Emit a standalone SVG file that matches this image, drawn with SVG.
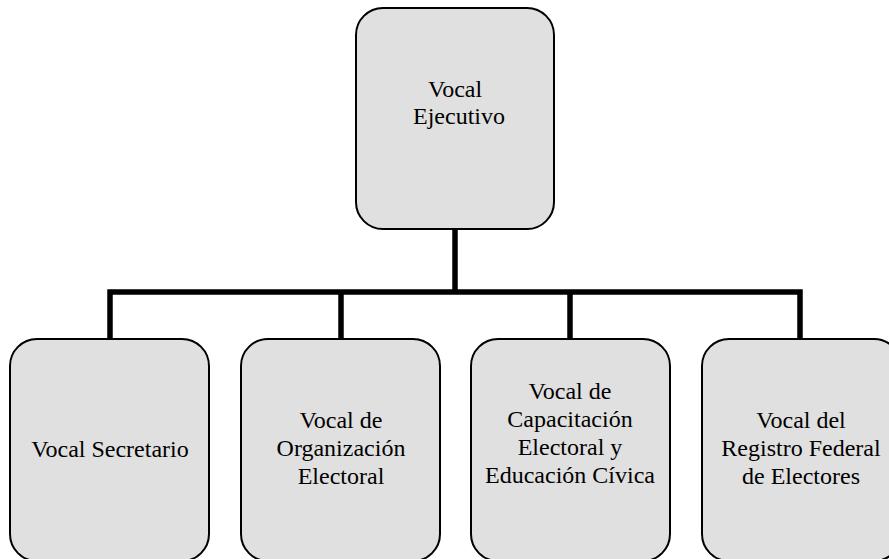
<svg xmlns="http://www.w3.org/2000/svg" width="889" height="559" viewBox="0 0 889 559">
<style>
.box{fill:#e0e0e0;stroke:#000;stroke-width:2}
.t{font-family:"Liberation Serif","Times New Roman",serif;font-size:24px;fill:#000;text-anchor:middle}
.c{fill:none;stroke:#000;stroke-width:5.5}
</style>
<rect width="889" height="559" fill="#fff"/>
<g id="connectors">
<line class="c" x1="455" y1="229" x2="455" y2="292"/>
<polyline class="c" points="110,339 110,292 800,292 800,339"/>
<line class="c" x1="341" y1="292" x2="341" y2="339"/>
<line class="c" x1="570" y1="292" x2="570" y2="339"/>
</g>
<g id="n0">
<rect class="box" x="356" y="8" width="198" height="221" rx="27"/>
<text class="t" x="455" y="97">Vocal</text>
<text class="t" x="459" y="124">Ejecutivo</text>
</g>
<g id="n1">
<rect class="box" x="10" y="339" width="199" height="222" rx="27"/>
<text class="t" x="110" y="457">Vocal Secretario</text>
</g>
<g id="n2">
<rect class="box" x="241" y="339" width="199" height="222" rx="27"/>
<text class="t" x="341" y="428">Vocal de</text>
<text class="t" x="341" y="456">Organización</text>
<text class="t" x="341" y="484">Electoral</text>
</g>
<g id="n3">
<rect class="box" x="471" y="339" width="199" height="222" rx="27"/>
<text class="t" x="570" y="399">Vocal de</text>
<text class="t" x="570" y="427">Capacitación</text>
<text class="t" x="570" y="455">Electoral y</text>
<text class="t" x="570" y="483">Educación Cívica</text>
</g>
<g id="n4">
<rect class="box" x="702" y="339" width="199" height="222" rx="27"/>
<text class="t" x="801" y="428">Vocal del</text>
<text class="t" x="801" y="456">Registro Federal</text>
<text class="t" x="801" y="484">de Electores</text>
</g>
</svg>
